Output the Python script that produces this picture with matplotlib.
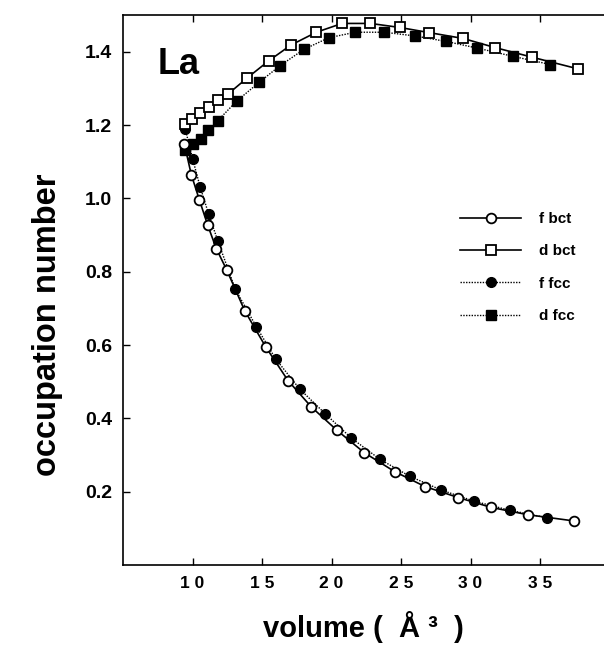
import numpy as np
import matplotlib.pyplot as plt

plt.rcParams['font.family'] = ['Liberation Sans', 'DejaVu Sans']
plt.rcParams['font.weight'] = 'bold'

# volume (A^3) and occupation numbers
v_f_bct = [9.42, 9.91, 10.50, 11.10, 11.71, 12.47, 13.75, 15.28, 16.87, 18.55,
           20.40, 22.37, 24.53, 26.72, 29.11, 31.49, 34.14, 37.47]
f_bct = [1.147, 1.065, 0.995, 0.926, 0.863, 0.804, 0.694, 0.594, 0.503, 0.431,
         0.367, 0.306, 0.255, 0.214, 0.184, 0.157, 0.137, 0.120]

v_d_bct = [9.47, 9.98, 10.55, 11.17, 11.82, 12.54, 13.89, 15.48, 17.08, 18.91,
           20.76, 22.80, 24.91, 27.02, 29.47, 31.78, 34.42, 37.74]
d_bct = [1.204, 1.217, 1.234, 1.249, 1.269, 1.284, 1.327, 1.375, 1.418, 1.453,
         1.477, 1.477, 1.466, 1.452, 1.436, 1.411, 1.385, 1.353]

v_f_fcc = [9.47, 10.02, 10.55, 11.17, 11.82, 13.08, 14.59, 15.98, 17.71, 19.56,
           21.43, 23.49, 25.63, 27.85, 30.26, 32.84, 35.48]
f_fcc = [1.190, 1.106, 1.031, 0.956, 0.884, 0.752, 0.650, 0.562, 0.480, 0.412,
         0.346, 0.288, 0.242, 0.205, 0.174, 0.149, 0.129]

v_d_fcc = [9.45, 10.02, 10.58, 11.15, 11.82, 13.17, 14.78, 16.27, 18.00, 19.80,
           21.72, 23.78, 25.99, 28.23, 30.46, 33.08, 35.74]
d_fcc = [1.131, 1.147, 1.163, 1.186, 1.212, 1.265, 1.316, 1.361, 1.406, 1.438,
         1.453, 1.453, 1.443, 1.428, 1.410, 1.387, 1.365]

xticks = [10, 15, 20, 25, 30, 35]
yticks = [0.2, 0.4, 0.6, 0.8, 1.0, 1.2, 1.4]

fig = plt.figure(figsize=(6.04, 6.45), dpi=100)
ax = fig.add_axes([123/604, 80/645, 481/604, 550/645])

ms = 7
ax.plot(v_d_fcc, d_fcc, ls=(0, (1, 1)), color='black', lw=1.0,
        marker='s', ms=ms, mfc='black', mec='black', label='d fcc')
ax.plot(v_f_fcc, f_fcc, ls=(0, (1, 1)), color='black', lw=1.0,
        marker='o', ms=ms, mfc='black', mec='black', label='f fcc')
ax.plot(v_d_bct, d_bct, ls='-', color='black', lw=1.2,
        marker='s', ms=ms, mfc='white', mec='black', mew=1.3, label='d bct')
ax.plot(v_f_bct, f_bct, ls='-', color='black', lw=1.2,
        marker='o', ms=ms, mfc='white', mec='black', mew=1.3, label='f bct')

ax.set_xlim(5, 39.6)
ax.set_ylim(0, 1.5)
ax.set_xticks(xticks)
ax.set_xticklabels([' '.join(str(t)) for t in xticks])
ax.set_yticks(yticks)
ax.set_yticklabels([f'{t:.1f}' for t in yticks])
ax.tick_params(direction='in', length=5, width=1, top=True, pad=8)
ax.tick_params(axis='x', labelsize=12.5)
ax.tick_params(axis='y', labelsize=14)
ax.spines['right'].set_visible(False)
for s in ['left', 'bottom', 'top']:
    ax.spines[s].set_linewidth(1.2)

ax.set_ylabel('occupation number', fontsize=23.5, fontweight='bold')
ax.yaxis.set_label_coords(-0.125, 0.436)
ax.set_xlabel('volume (  Å ³  )', fontsize=21, fontweight='bold', labelpad=14)

ax.text(7.5, 1.365, 'La', fontsize=26, fontweight='bold', va='center')

h, l = ax.get_legend_handles_labels()
order = [3, 2, 1, 0]
ax.legend([h[i] for i in order], [l[i] for i in order], frameon=False,
          loc='upper left', bbox_to_anchor=(460/604, 1 - 212/645),
          bbox_transform=fig.transFigure, borderpad=0, borderaxespad=0,
          handlelength=4.0, handletextpad=1.2, labelspacing=1.2,
          prop={'size': 11, 'weight': 'bold'})

fig.savefig('out.png', dpi=100)
